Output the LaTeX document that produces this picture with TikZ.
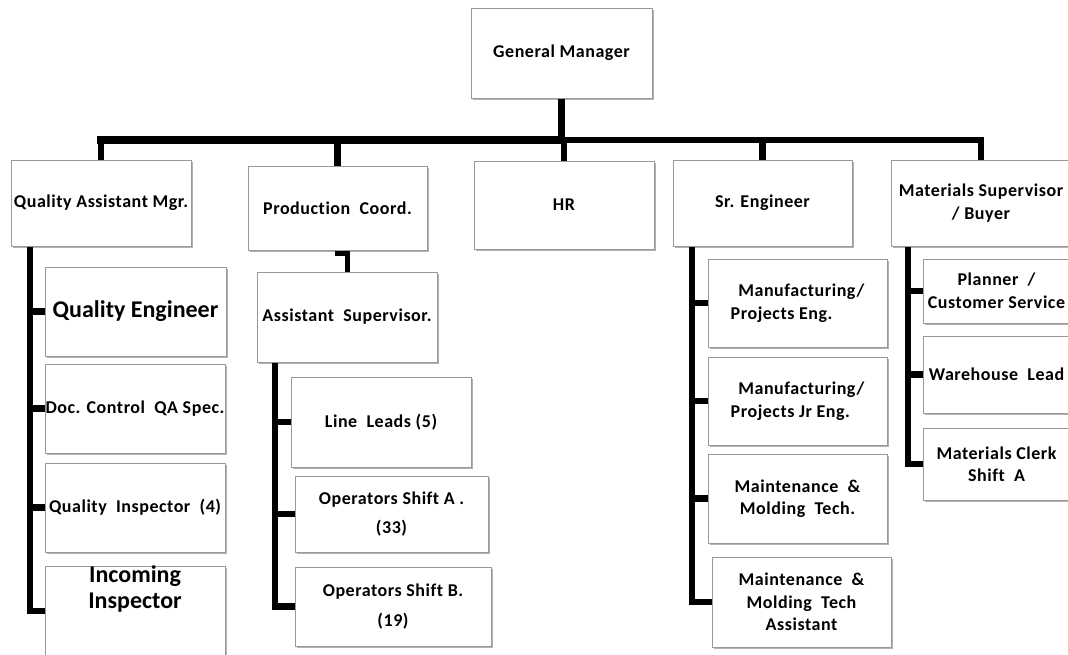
\documentclass[tikz,border=0pt]{standalone}
\usepackage{fontspec}
\newfontfamily\orgfont{Carlito}[LetterSpace=3,Ligatures=NoCommon]
\newfontfamily\orgbig{Carlito}
\usetikzlibrary{shadows}
\pgfdeclarelayer{bg}
\pgfsetlayers{bg,main}
\tikzset{
  box/.style={draw=black!40, line width=0.9pt, fill=white, inner sep=0pt,
    drop shadow={shadow xshift=1.6pt, shadow yshift=-2pt, fill=black, opacity=0.3},
    align=center, font=\orgfont\bfseries\fontsize{18}{22.5}\selectfont},
  bigtext/.style={align=center, inner sep=0pt, font=\orgbig\bfseries\fontsize{24}{26}\selectfont},
  conn/.style={line width=6.5pt, draw=black, line cap=rect},
}
\begin{document}
\begin{tikzpicture}[x=1pt, y=-1pt]
\useasboundingbox (0,0) rectangle (1068,655);
\clip (0,0) rectangle (1068,655);
% level 0
\node[box, minimum width=181pt, minimum height=90pt] (gm) at (561.5,53) {General Manager};
% level 1
\node[box, minimum width=180pt, minimum height=86pt] (qam) at (101,203) {Quality Assistant Mgr.};
\node[box, minimum width=179pt, minimum height=84pt] (pc) at (337.5,208) {Production\ \ Coord.};
\node[box, minimum width=180pt, minimum height=88pt] (hr) at (564,205) {HR};
\node[box, minimum width=179pt, minimum height=86pt] (se) at (762.5,203) {Sr. Engineer};
\node[box, minimum width=180pt, minimum height=86pt] (ms) at (981,203) {Materials Supervisor\\/ Buyer};
% quality column
\node[box, minimum width=181pt, minimum height=89pt, font=\orgbig\bfseries\fontsize{24}{26}\selectfont] (qe) at (135.5,311.5) {Quality Engineer};
\node[box, minimum width=180pt, minimum height=89pt] (dc) at (135,408.5) {Doc. Control\ \ QA Spec.};
\node[box, minimum width=180pt, minimum height=89pt] (qi) at (135,507.5) {Quality\ \ Inspector\ \ (4)};
\node[box, minimum width=180pt, minimum height=90pt] (inc) at (135,611) {};
\node[bigtext] (inct) at (135,589) {Incoming\\Inspector};
% production column
\node[box, minimum width=180pt, minimum height=90pt] (as) at (347,317) {Assistant\ \ Supervisor.};
\node[box, minimum width=180pt, minimum height=90pt] (ll) at (381,422) {Line\ \ Leads (5)};
\node[box, minimum width=193pt, minimum height=76pt] (oa) at (391.5,514) {Operators Shift A .\\[7pt](33)};
\node[box, minimum width=196pt, minimum height=79pt] (ob) at (393,606.5) {Operators Shift B.\\[7pt](19)};
% engineering column
\node[box, minimum width=179pt, minimum height=88pt, align=left] (me) at (797.5,303) {\ \,Manufacturing/\\Projects Eng.};
\node[box, minimum width=179pt, minimum height=88pt, align=left] (mj) at (797.5,401) {\ \,Manufacturing/\\Projects Jr Eng.};
\node[box, minimum width=179pt, minimum height=89pt] (mt) at (797.5,498.5) {Maintenance\ \ \&\\Molding\ \ Tech.};
\node[box, minimum width=179pt, minimum height=90pt] (ma) at (801.5,602) {Maintenance\ \ \&\\Molding\ \ Tech\\Assistant};
% materials column
\node[box, minimum width=147pt, minimum height=64pt] (pl) at (996.5,291) {Planner\ \ /\\Customer\ Service};
\node[box, minimum width=147pt, minimum height=77pt] (wl) at (996.5,374.5) {Warehouse\ \ Lead};
\node[box, minimum width=147pt, minimum height=72pt] (mc) at (996.5,464) {Materials Clerk\\Shift\ \ A};
% connectors
\coordinate (busC) at (561.5,140);
\coordinate (qtop) at (30,246);
\coordinate (atop) at (275,362);
\coordinate (stop) at (692,246);
\coordinate (mtop) at (908,246);
\begin{pgfonlayer}{bg}
\draw[conn, line width=7.5pt] (gm.south) -- (busC);
\draw[conn, line width=7.5pt] (qam.north |- busC) -- (busC);
\draw[conn] (busC) -- (ms.north |- busC);
\foreach \n in {qam,pc,hr,se,ms} \draw[conn] (\n.north |- busC) -- (\n.north);
\draw[conn] (qtop) |- (inc.west);
\foreach \n in {qe,dc,qi} \draw[conn] (qtop |- \n.west) -- (\n.west);
\draw[conn, line width=5pt] (pc.south) ++(0,3) -| (as.north);
\draw[conn] (atop) |- (ob.west);
\foreach \n in {ll,oa} \draw[conn] (atop |- \n.west) -- (\n.west);
\draw[conn] (stop) |- (ma.west);
\foreach \n in {me,mj,mt} \draw[conn] (stop |- \n.west) -- (\n.west);
\draw[conn] (mtop) |- (mc.west);
\foreach \n in {pl,wl} \draw[conn] (mtop |- \n.west) -- (\n.west);
\end{pgfonlayer}
\end{tikzpicture}
\end{document}
